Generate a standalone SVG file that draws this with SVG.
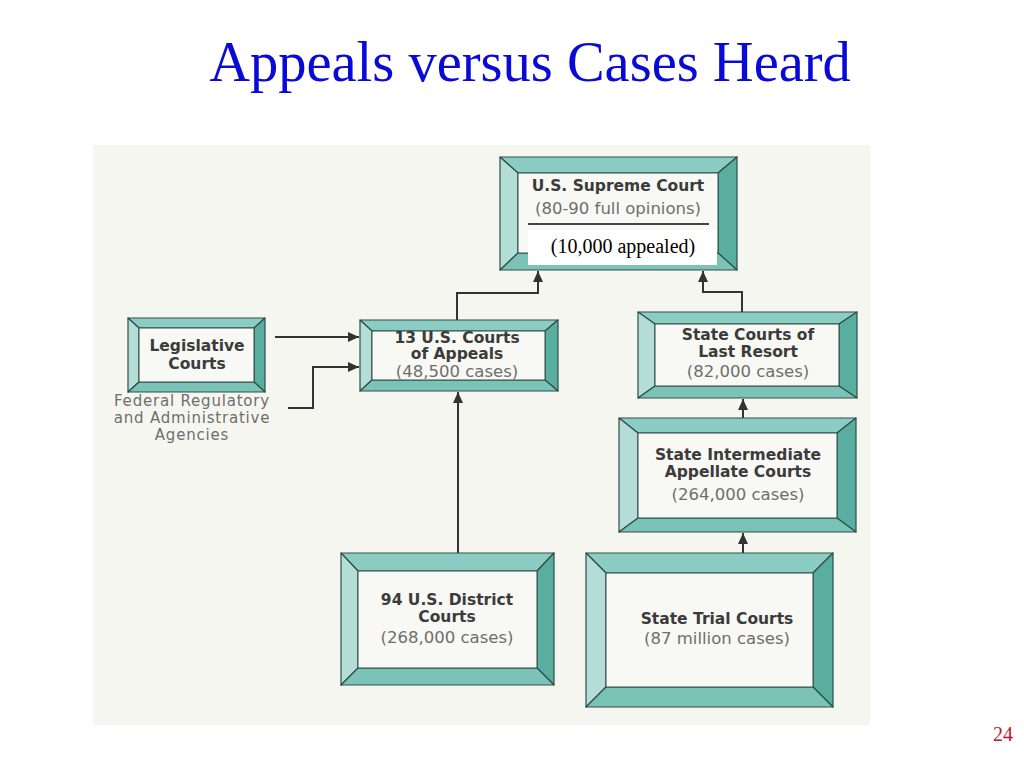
<svg xmlns="http://www.w3.org/2000/svg" width="1024" height="768" viewBox="0 0 1024 768">
<style>
.bt{fill:#8ccdc3;stroke:#2f4f49;stroke-width:1.2;stroke-linejoin:round}
.bl{fill:#b3ddd6;stroke:#2f4f49;stroke-width:1.2;stroke-linejoin:round}
.br{fill:#5aae9f;stroke:#2f4f49;stroke-width:1.2;stroke-linejoin:round}
.bb{fill:#7cc3b7;stroke:#2f4f49;stroke-width:1.2;stroke-linejoin:round}
.in{fill:#f8f8f4;stroke:#2f4f49;stroke-width:1}
.b{font-family:"DejaVu Sans",sans-serif;font-weight:bold;font-size:15.5px;fill:#3b3b3b;text-anchor:middle}
.n{font-family:"DejaVu Sans",sans-serif;font-size:16.5px;fill:#6e6e6e;text-anchor:middle}
.f{font-family:"DejaVu Sans",sans-serif;font-size:15px;letter-spacing:0.8px;fill:#6e6e6e;text-anchor:middle}
.c{fill:none;stroke:#333;stroke-width:2}
</style>
<defs>
<marker id="ah" markerUnits="userSpaceOnUse" markerWidth="12" markerHeight="11" refX="11" refY="5.5" orient="auto">
<path d="M0,0.5 L11,5.5 L0,10.5 z" fill="#333"/>
</marker>
</defs>
<rect width="1024" height="768" fill="#ffffff"/>
<rect x="93" y="145" width="777" height="580" fill="#f6f6f1"/>
<text x="530" y="81" font-family="Liberation Serif, serif" font-size="56.5" fill="#0a0ad6" text-anchor="middle">Appeals versus Cases Heard</text>
<text x="1003" y="741" font-family="Liberation Serif, serif" font-size="20" fill="#c8102e" text-anchor="middle">24</text>

<g id="connectors">
<path class="c" d="M457,320 V293 H538 V271" marker-end="url(#ah)"/>
<path class="c" d="M742,312 V292 H703 V271" marker-end="url(#ah)"/>
<path class="c" d="M275,337 H359" marker-end="url(#ah)"/>
<path class="c" d="M288,408 H313 V367 H359" marker-end="url(#ah)"/>
<path class="c" d="M458,553 V392" marker-end="url(#ah)"/>
<path class="c" d="M743,418 V399" marker-end="url(#ah)"/>
<path class="c" d="M743,553 V533" marker-end="url(#ah)"/>
</g>

<g id="supreme-court">
<polygon class="bt" points="500,157 737,157 718,173 518,173"/>
<polygon class="bl" points="500,157 518,173 518,253 500,270"/>
<polygon class="br" points="737,157 737,270 718,253 718,173"/>
<polygon class="bb" points="500,270 518,253 718,253 737,270"/>
<rect class="in" x="518" y="173" width="200" height="80"/>
<text class="b" x="618" y="191">U.S. Supreme Court</text>
<text class="n" x="618" y="214">(80-90 full opinions)</text>
<line x1="528" y1="224" x2="709" y2="224" stroke="#444" stroke-width="2"/>
<rect x="528" y="230" width="189" height="35" fill="#ffffff"/>
<text x="623" y="253" font-family="Liberation Serif, serif" font-size="20" fill="#000" text-anchor="middle">(10,000 appealed)</text>
</g>

<g id="legislative-courts">
<polygon class="bt" points="128,318 265,318 254,328 139,328"/>
<polygon class="bl" points="128,318 139,328 139,382 128,392"/>
<polygon class="br" points="265,318 265,392 254,382 254,328"/>
<polygon class="bb" points="128,392 139,382 254,382 265,392"/>
<rect class="in" x="139" y="328" width="115" height="54"/>
<text class="b" x="197" y="351">Legislative</text>
<text class="b" x="197" y="369">Courts</text>
</g>

<g id="federal-agencies">
<text class="f" x="192" y="406">Federal Regulatory</text>
<text class="f" x="192" y="423">and Administrative</text>
<text class="f" x="192" y="440">Agencies</text>
</g>

<g id="courts-of-appeals">
<polygon class="bt" points="360,320 558,320 545,331 372,331"/>
<polygon class="bl" points="360,320 372,331 372,380 360,391"/>
<polygon class="br" points="558,320 558,391 545,380 545,331"/>
<polygon class="bb" points="360,391 372,380 545,380 558,391"/>
<rect class="in" x="372" y="331" width="173" height="49"/>
<text class="b" x="457" y="343">13 U.S. Courts</text>
<text class="b" x="457" y="359">of Appeals</text>
<text class="n" x="457" y="377">(48,500 cases)</text>
</g>

<g id="state-last-resort">
<polygon class="bt" points="638,312 857,312 839,324 655,324"/>
<polygon class="bl" points="638,312 655,324 655,386 638,398"/>
<polygon class="br" points="857,312 857,398 839,386 839,324"/>
<polygon class="bb" points="638,398 655,386 839,386 857,398"/>
<rect class="in" x="655" y="324" width="184" height="62"/>
<text class="b" x="748" y="340">State Courts of</text>
<text class="b" x="748" y="357">Last Resort</text>
<text class="n" x="748" y="377">(82,000 cases)</text>
</g>

<g id="state-intermediate">
<polygon class="bt" points="619,418 856,418 837,433 638,433"/>
<polygon class="bl" points="619,418 638,433 638,518 619,532"/>
<polygon class="br" points="856,418 856,532 837,518 837,433"/>
<polygon class="bb" points="619,532 638,518 837,518 856,532"/>
<rect class="in" x="638" y="433" width="199" height="85"/>
<text class="b" x="738" y="460">State Intermediate</text>
<text class="b" x="738" y="477">Appellate Courts</text>
<text class="n" x="738" y="500">(264,000 cases)</text>
</g>

<g id="district-courts">
<polygon class="bt" points="341,553 554,553 537,571 358,571"/>
<polygon class="bl" points="341,553 358,571 358,668 341,685"/>
<polygon class="br" points="554,553 554,685 537,668 537,571"/>
<polygon class="bb" points="341,685 358,668 537,668 554,685"/>
<rect class="in" x="358" y="571" width="179" height="97"/>
<text class="b" x="447" y="605">94 U.S. District</text>
<text class="b" x="447" y="622">Courts</text>
<text class="n" x="447" y="643">(268,000 cases)</text>
</g>

<g id="state-trial">
<polygon class="bt" points="586,553 833,553 813,573 606,573"/>
<polygon class="bl" points="586,553 606,573 606,687 586,707"/>
<polygon class="br" points="833,553 833,707 813,687 813,573"/>
<polygon class="bb" points="586,707 606,687 813,687 833,707"/>
<rect class="in" x="606" y="573" width="207" height="114"/>
<text class="b" x="717" y="624">State Trial Courts</text>
<text class="n" x="717" y="644">(87 million cases)</text>
</g>
</svg>
